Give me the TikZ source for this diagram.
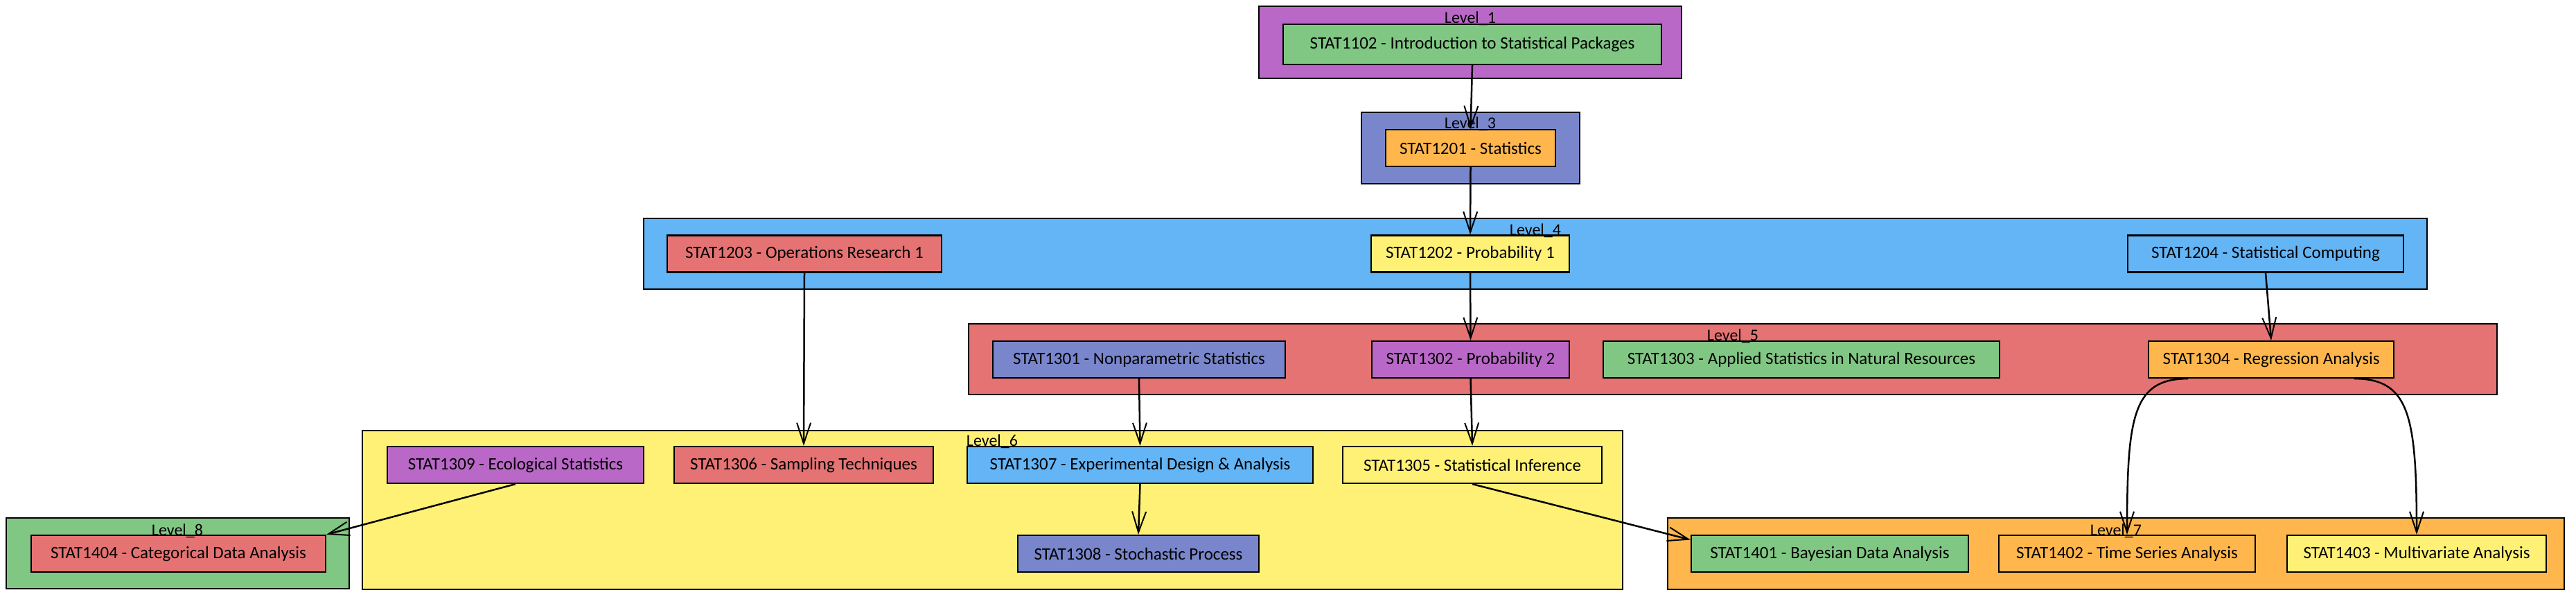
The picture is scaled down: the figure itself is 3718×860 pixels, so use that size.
\documentclass[tikz,border=0pt]{standalone}
\usepackage{fontspec}
\setmainfont{Carlito}
\usetikzlibrary{arrows.meta}
\definecolor{cpurple}{HTML}{BA68C8}
\definecolor{cgreen}{HTML}{81C784}
\definecolor{cindigo}{HTML}{7986CB}
\definecolor{corange}{HTML}{FFB74D}
\definecolor{cblue}{HTML}{64B5F6}
\definecolor{cred}{HTML}{E57373}
\definecolor{cyellow}{HTML}{FFF176}
\tikzset{
	course/.style={draw=black, line width=2.2pt, inner sep=0pt, minimum height=53pt, font=\fontsize{25}{28}\selectfont},
	levelbox/.style={draw=black, line width=2.8pt},
	levellabel/.style={anchor=base, inner sep=0pt, font=\fontsize{24}{26}\selectfont},
	prereq/.style={line width=2.5pt, -{Straight Barb[length=30pt,width=20pt,line width=2pt]}},
}
\begin{document}
\begin{tikzpicture}[x=1pt,y=-1pt]
	\useasboundingbox (0,0) rectangle (3718,860);

	% Level_1
	\draw[levelbox, fill=cpurple] (1817,9) rectangle (2427,113);
	\node[course, fill=cgreen, minimum width=546pt, minimum height=58pt] (s1102) at (2125,64) {STAT1102 - Introduction to Statistical Packages};
	\node[levellabel] (lv1) at (2122,33) {Level\_1};

	% Level_3
	\draw[levelbox, fill=cindigo] (1965,162) rectangle (2280,265);
	\node[course, fill=corange, minimum width=245pt] (s1201) at (2122.5,213.5) {STAT1201 - Statistics};
	\node[levellabel] (lv3) at (2122,185) {Level\_3};

	% Level_4
	\draw[levelbox, fill=cblue] (929,315) rectangle (3503,417);
	\node[course, fill=cred, minimum width=396pt] (s1203) at (1161,366) {STAT1203 - Operations Research 1};
	\node[course, fill=cyellow, minimum width=286pt] (s1202) at (2122,366) {STAT1202 - Probability 1};
	\node[course, fill=cblue, minimum width=398pt] (s1204) at (3270,366) {STAT1204 - Statistical Computing};
	\node[levellabel] (lv4) at (2216,339) {Level\_4};

	% Level_5
	\draw[levelbox, fill=cred] (1398,467) rectangle (3604,569);
	\node[course, fill=cindigo, minimum width=422pt] (s1301) at (1644,518.5) {STAT1301 - Nonparametric Statistics};
	\node[course, fill=cpurple, minimum width=285pt] (s1302) at (2122.5,518.5) {STAT1302 - Probability 2};
	\node[course, fill=cgreen, minimum width=572pt] (s1303) at (2600,518.5) {STAT1303 - Applied Statistics in Natural Resources};
	\node[course, fill=corange, minimum width=354pt] (s1304) at (3278,518.5) {STAT1304 - Regression Analysis};
	\node[levellabel] (lv5) at (2501,491) {Level\_5};

	% Level_6
	\draw[levelbox, fill=cyellow] (523,621) rectangle (2342,850);
	\node[course, fill=cpurple, minimum width=370pt] (s1309) at (744,670.5) {STAT1309 - Ecological Statistics};
	\node[course, fill=cred, minimum width=374pt] (s1306) at (1160,670.5) {STAT1306 - Sampling Techniques};
	\node[course, fill=cblue, minimum width=499pt] (s1307) at (1645.5,670.5) {STAT1307 - Experimental Design \& Analysis};
	\node[course, fill=cyellow, minimum width=374pt] (s1305) at (2125,670.5) {STAT1305 - Statistical Inference};
	\node[course, fill=cindigo, minimum width=348pt] (s1308) at (1643,798.5) {STAT1308 - Stochastic Process};
	\node[levellabel] (lv6) at (1432,643) {Level\_6};

	% Level_7
	\draw[levelbox, fill=corange] (2407,747) rectangle (3701,850);
	\node[course, fill=cgreen, minimum width=400pt] (s1401) at (2641,798.5) {STAT1401 - Bayesian Data Analysis};
	\node[course, fill=corange, minimum width=370pt] (s1402) at (3070,798.5) {STAT1402 - Time Series Analysis};
	\node[course, fill=cyellow, minimum width=374pt] (s1403) at (3488,798.5) {STAT1403 - Multivariate Analysis};
	\node[levellabel] (lv7) at (3054,772) {Level\_7};

	% Level_8
	\draw[levelbox, fill=cgreen] (9,747) rectangle (504,849);
	\node[course, fill=cred, minimum width=425pt] (s1404) at (257.5,798.5) {STAT1404 - Categorical Data Analysis};
	\node[levellabel] (lv8) at (256,772) {Level\_8};

	% Prerequisites
	\draw[prereq] (s1102.south) -- (s1201.north);
	\draw[prereq] (s1201.south) -- (s1202.north);
	\draw[prereq] (s1202.south) -- (s1302.north);
	\draw[prereq] (s1203.south) -- (s1306.north);
	\draw[prereq] (s1204.south) -- (s1304.north);
	\draw[prereq] (s1301.south) -- (s1307.north);
	\draw[prereq] (s1302.south) -- (s1305.north);
	\draw[prereq] (s1307.south) -- (s1308.north);
	\draw[prereq] (s1305.south) -- ([yshift=20pt]s1401.west);
	\draw[prereq] (s1309.south) -- (s1404.north east);
	\draw[prereq] ([xshift=-120pt]s1304.south) .. controls +(-80,0) and +(0,-170) .. (s1402.north);
	\draw[prereq] ([xshift=120pt]s1304.south) .. controls +(80,0) and +(0,-170) .. (s1403.north);
\end{tikzpicture}
\end{document}
